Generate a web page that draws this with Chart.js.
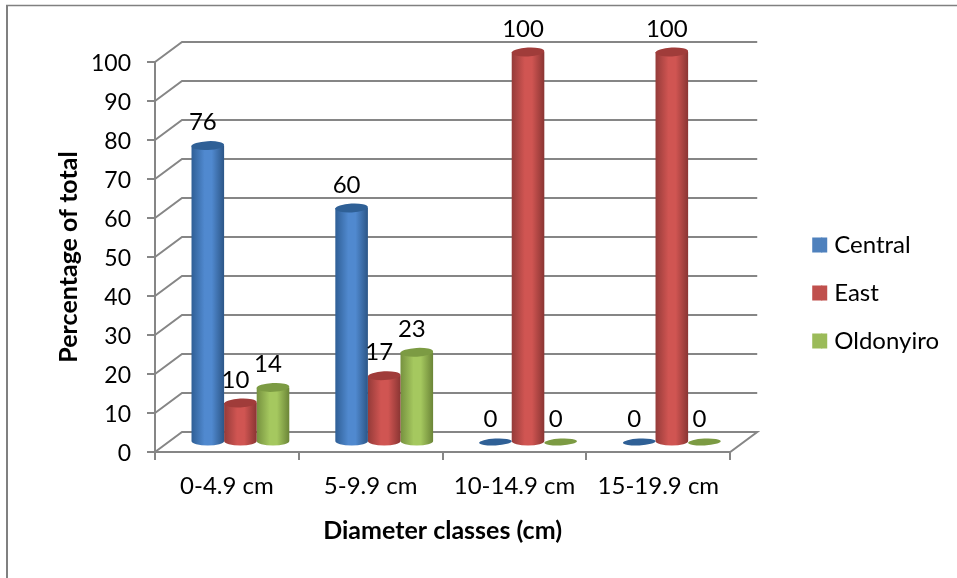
<!DOCTYPE html>
<html>
<head>
<meta charset="utf-8">
<script src="https://cdn.jsdelivr.net/npm/chart.js@4"></script>
<style>
  html, body { margin: 0; padding: 0; background: #fff; }
  #wrap { position: relative; width: 957px; height: 578px; }
</style>
</head>
<body>
<div id="wrap"><canvas id="diameterChart" width="957" height="578"></canvas></div>
<script>
var categories = ["0-4.9 cm", "5-9.9 cm", "10-14.9 cm", "15-19.9 cm"];
var central = [76, 60, 0, 0];
var east = [10, 17, 100, 100];
var oldonyiro = [14, 23, 0, 0];

var FONT = "Lato";
var AXIS = "#868686";
var DEPTH_X = 27; // depth of the 3D box
var DEPTH_Y = 20;

// left edge, peak and right edge of each cylinder, then the lid colour
var shades = {
  Central: ["#2f5f96", "#5089cf", "#2c5687", "#2f6096"],
  East: ["#953b39", "#d05552", "#8a3533", "#a03c3a"],
  Oldonyiro: ["#76913f", "#a5c85f", "#6b8537", "#7c9b43"],
};

// back wall, side wall and floor, behind the bars
var box3d = {
  id: "box3d",
  beforeDatasetsDraw: function (chart) {
    var ctx = chart.ctx;
    var area = chart.chartArea;
    var y = chart.scales.y;
    ctx.save();
    ctx.strokeStyle = AXIS;
    ctx.lineWidth = 2;
    y.ticks.forEach(function (t) {
      var py = y.getPixelForValue(t.value);
      ctx.beginPath();
      ctx.moveTo(area.left, py);
      ctx.lineTo(area.left + DEPTH_X, py - DEPTH_Y);
      ctx.lineTo(area.right + DEPTH_X, py - DEPTH_Y);
      if (t.value === 0) {
        ctx.lineTo(area.right, py);
        ctx.lineTo(area.left, py);
      }
      ctx.stroke();
    });
    ctx.restore();
  },
};

function ellipse(ctx, x, y, rx, ry, fill) {
  ctx.beginPath();
  ctx.ellipse(x, y, rx, ry, -0.05, 0, Math.PI * 2);
  ctx.fillStyle = fill;
  ctx.fill();
}

// bars become cylinders standing in the middle of the box depth
var cylinders = {
  id: "cylinders",
  beforeDatasetDraw: function (chart, args) {
    var ctx = chart.ctx;
    var name = chart.data.datasets[args.index].label;
    var colors = shades[name];
    args.meta.data.forEach(function (bar) {
      var cx = bar.x + DEPTH_X / 2;
      var rx = bar.width / 2;
      var top = bar.y - DEPTH_Y / 2;
      var base = bar.base - DEPTH_Y / 2;
      if (base - top < 1) {
        ellipse(ctx, cx, base, rx, 3.4, colors[3]);
        return;
      }
      var grad = ctx.createLinearGradient(cx - rx, 0, cx + rx, 0);
      grad.addColorStop(0, colors[0]);
      grad.addColorStop(0.4, colors[1]);
      grad.addColorStop(0.62, colors[1]);
      grad.addColorStop(1, colors[2]);
      ctx.beginPath();
      ctx.moveTo(cx - rx, top);
      ctx.lineTo(cx + rx, top);
      ctx.lineTo(cx + rx, base);
      ctx.ellipse(cx, base, rx, 4.6, 0, 0, Math.PI);
      ctx.closePath();
      ctx.fillStyle = grad;
      ctx.fill();
      ellipse(ctx, cx, top, rx, 4.4, colors[3]);
    });
    return false;
  },
  afterDatasetsDraw: function (chart) {
    var ctx = chart.ctx;
    ctx.save();
    ctx.font = "24px " + FONT;
    ctx.fillStyle = "#000";
    ctx.textAlign = "center";
    ctx.textBaseline = "middle";
    chart.data.datasets.forEach(function (ds, i) {
      chart.getDatasetMeta(i).data.forEach(function (bar, j) {
        ctx.fillText(ds.data[j], bar.x + DEPTH_X / 2 - 5, bar.y - DEPTH_Y / 2 - 23);
      });
    });
    ctx.restore();
  },
};

// thin frame of the pasted picture, and the legend moved right of the box
var frame = {
  id: "frame",
  afterLayout: function (chart) {
    var l = chart.legend;
    l.left += 58;
    l.right += 58;
    l.top -= 11;
    l.bottom -= 11;
  },
  beforeDraw: function (chart) {
    var ctx = chart.ctx;
    ctx.save();
    ctx.strokeStyle = "#808080";
    ctx.lineWidth = 2;
    ctx.beginPath();
    ctx.moveTo(7, 578);
    ctx.lineTo(7, 5.5);
    ctx.stroke();
    ctx.lineWidth = 1.5;
    ctx.beginPath();
    ctx.moveTo(6, 5.5);
    ctx.lineTo(957, 5.5);
    ctx.stroke();
    ctx.restore();
  },
  // legend keys are 15px wide but sit closer to their text than Chart.js allows
  afterDraw: function (chart) {
    var ctx = chart.ctx;
    var l = chart.legend;
    l.legendItems.forEach(function (item, i) {
      var hit = l.legendHitBoxes[i];
      ctx.fillStyle = item.fillStyle;
      ctx.fillRect(hit.left + 9, hit.top + (hit.height - 15) / 2, 6, 15);
    });
  },
};

new Chart(document.getElementById("diameterChart"), {
  type: "bar",
  data: {
    labels: categories,
    datasets: [
      { label: "Central", data: central, backgroundColor: "#4f81bd", borderWidth: 0 },
      { label: "East", data: east, backgroundColor: "#c0504d", borderWidth: 0 },
      { label: "Oldonyiro", data: oldonyiro, backgroundColor: "#9bbb59", borderWidth: 0 },
    ],
  },
  options: {
    responsive: false,
    animation: false,
    categoryPercentage: 0.68,
    barPercentage: 1,
    layout: { padding: { top: 62, right: 66, bottom: 32, left: 54 } },
    plugins: {
      tooltip: { enabled: false },
      legend: {
        position: "right",
        labels: {
          boxWidth: 10,
          boxHeight: 15,
          padding: 24,
          color: "#000",
          font: { family: FONT, size: 24 },
        },
      },
    },
    scales: {
      x: {
        afterFit: function (scale) { scale.height = 94; },
        grid: { drawOnChartArea: false, color: AXIS, lineWidth: 2, tickLength: 8 },
        border: { color: AXIS, width: 2 },
        ticks: { color: "#000", padding: 12, font: { family: FONT, size: 24 }, maxRotation: 0 },
        title: {
          display: true,
          text: "Diameter classes (cm)",
          color: "#000",
          padding: { top: 10, bottom: 0 },
          font: { family: FONT, size: 25, weight: "bold" },
        },
      },
      y: {
        min: 0,
        max: 100,
        afterFit: function (scale) { scale.width = 101; },
        grid: { drawOnChartArea: false, color: AXIS, lineWidth: 2, tickLength: 8 },
        border: { color: AXIS, width: 2 },
        ticks: { stepSize: 10, color: "#000", padding: 16, labelOffset: 2, font: { family: FONT, size: 23 } },
        title: {
          display: true,
          text: "Percentage of total",
          color: "#000",
          padding: { top: 0, bottom: 4 },
          font: { family: FONT, size: 25, weight: "bold" },
        },
      },
    },
  },
  plugins: [frame, box3d, cylinders],
});
</script>
</body>
</html>
